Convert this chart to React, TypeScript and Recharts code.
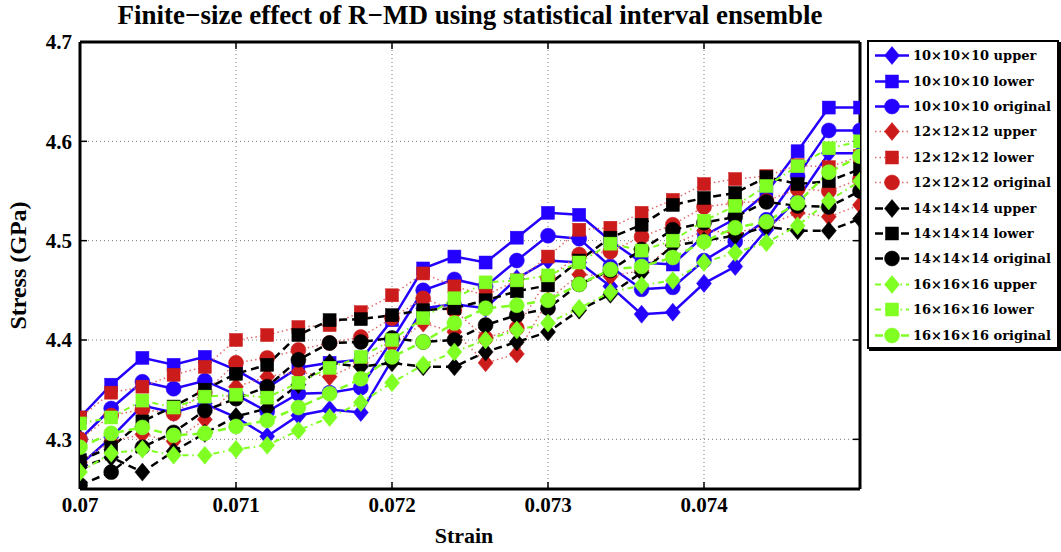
import React from 'react';
import { LineChart, Line, XAxis, YAxis, CartesianGrid, ReferenceLine } from 'recharts';

const STRAIN = [0.07, 0.0702, 0.0704, 0.0706, 0.0708, 0.071, 0.0712, 0.0714, 0.0716, 0.0718, 0.072, 0.0722, 0.0724, 0.0726, 0.0728, 0.073, 0.0732, 0.0734, 0.0736, 0.0738, 0.074, 0.0742, 0.0744, 0.0746, 0.0748, 0.075];

const UPPER_10 = [4.274, 4.302, 4.334, 4.327, 4.336, 4.322, 4.303, 4.324, 4.33, 4.327, 4.38, 4.432, 4.436, 4.432, 4.462, 4.48, 4.478, 4.454, 4.426, 4.428, 4.457, 4.474, 4.511, 4.542, 4.588, 4.588];
const LOWER_10 = [4.322, 4.355, 4.382, 4.375, 4.383, 4.37, 4.352, 4.372, 4.377, 4.38, 4.42, 4.472, 4.484, 4.478, 4.503, 4.528, 4.526, 4.5, 4.478, 4.476, 4.505, 4.522, 4.548, 4.59, 4.634, 4.634];
const ORIG_10 = [4.3, 4.331, 4.358, 4.351, 4.359, 4.345, 4.328, 4.346, 4.347, 4.352, 4.4, 4.45, 4.461, 4.454, 4.48, 4.505, 4.502, 4.474, 4.451, 4.453, 4.48, 4.499, 4.521, 4.565, 4.611, 4.611];
const UPPER_12 = [4.277, 4.298, 4.305, 4.298, 4.32, 4.353, 4.363, 4.368, 4.363, 4.377, 4.395, 4.417, 4.408, 4.377, 4.386, 4.44, 4.466, 4.464, 4.47, 4.496, 4.51, 4.508, 4.515, 4.528, 4.524, 4.536];
const LOWER_12 = [4.322, 4.347, 4.353, 4.365, 4.373, 4.4, 4.405, 4.413, 4.415, 4.428, 4.445, 4.467, 4.454, 4.445, 4.46, 4.484, 4.511, 4.513, 4.528, 4.541, 4.557, 4.562, 4.565, 4.576, 4.574, 4.585];
const ORIG_12 = [4.3, 4.324, 4.33, 4.326, 4.347, 4.377, 4.382, 4.39, 4.397, 4.403, 4.422, 4.442, 4.43, 4.402, 4.412, 4.462, 4.486, 4.489, 4.504, 4.516, 4.534, 4.538, 4.54, 4.552, 4.55, 4.562];
const UPPER_14 = [4.272, 4.282, 4.267, 4.288, 4.306, 4.323, 4.331, 4.355, 4.377, 4.373, 4.377, 4.373, 4.373, 4.388, 4.398, 4.408, 4.43, 4.446, 4.468, 4.495, 4.5, 4.505, 4.514, 4.51, 4.51, 4.522];
const LOWER_14 = [4.279, 4.292, 4.318, 4.333, 4.35, 4.366, 4.375, 4.405, 4.42, 4.421, 4.425, 4.43, 4.432, 4.44, 4.449, 4.455, 4.48, 4.503, 4.516, 4.536, 4.543, 4.548, 4.564, 4.557, 4.56, 4.572];
const ORIG_14 = [4.254, 4.267, 4.292, 4.307, 4.329, 4.341, 4.353, 4.38, 4.397, 4.398, 4.402, 4.398, 4.4, 4.415, 4.425, 4.432, 4.456, 4.47, 4.491, 4.511, 4.518, 4.524, 4.539, 4.535, 4.534, 4.55];
const UPPER_16 = [4.267, 4.286, 4.29, 4.284, 4.284, 4.29, 4.294, 4.309, 4.322, 4.337, 4.357, 4.375, 4.388, 4.4, 4.41, 4.417, 4.432, 4.448, 4.455, 4.46, 4.478, 4.488, 4.498, 4.515, 4.54, 4.56];
const LOWER_16 = [4.316, 4.322, 4.339, 4.332, 4.343, 4.345, 4.342, 4.357, 4.372, 4.383, 4.4, 4.422, 4.442, 4.458, 4.46, 4.465, 4.478, 4.497, 4.49, 4.5, 4.52, 4.535, 4.555, 4.575, 4.593, 4.6];
const ORIG_16 = [4.292, 4.306, 4.312, 4.304, 4.306, 4.313, 4.319, 4.332, 4.346, 4.361, 4.383, 4.398, 4.417, 4.432, 4.435, 4.44, 4.456, 4.471, 4.474, 4.483, 4.499, 4.513, 4.519, 4.538, 4.569, 4.585];

const X_TICKS = [0.07, 0.071, 0.072, 0.073, 0.074];
const Y_TICKS = [4.3, 4.4, 4.5, 4.6, 4.7];

const BLUE = '#2400ff';
const RED = '#cc1b1b';
const BLACK = '#000000';
const GREEN = '#80ff22';

type Shape = 'diamond' | 'square' | 'circle';
type SeriesDef = { key: string; name: string; values: number[]; color: string; shape: Shape; dash?: string; width: number; lineColor?: string };

const SERIES: SeriesDef[] = [
  { key: 'u10', name: '10\u00d710\u00d710 upper', values: UPPER_10, color: BLUE, shape: 'diamond', width: 2.5 },
  { key: 'l10', name: '10\u00d710\u00d710 lower', values: LOWER_10, color: BLUE, shape: 'square', width: 2.5 },
  { key: 'o10', name: '10\u00d710\u00d710 original', values: ORIG_10, color: BLUE, shape: 'circle', width: 2.5 },
  { key: 'u12', name: '12\u00d712\u00d712 upper', values: UPPER_12, color: RED, shape: 'diamond', dash: '1.5 3', width: 1.5, lineColor: '#e06a6a' },
  { key: 'l12', name: '12\u00d712\u00d712 lower', values: LOWER_12, color: RED, shape: 'square', dash: '1.5 3', width: 1.5, lineColor: '#e06a6a' },
  { key: 'o12', name: '12\u00d712\u00d712 original', values: ORIG_12, color: RED, shape: 'circle', dash: '1.5 3', width: 1.5, lineColor: '#e06a6a' },
  { key: 'u14', name: '14\u00d714\u00d714 upper', values: UPPER_14, color: BLACK, shape: 'diamond', dash: '8 5', width: 2.5 },
  { key: 'l14', name: '14\u00d714\u00d714 lower', values: LOWER_14, color: BLACK, shape: 'square', dash: '8 5', width: 2.5 },
  { key: 'o14', name: '14\u00d714\u00d714 original', values: ORIG_14, color: BLACK, shape: 'circle', dash: '8 5', width: 2.5 },
  { key: 'u16', name: '16\u00d716\u00d716 upper', values: UPPER_16, color: GREEN, shape: 'diamond', dash: '6 4 1.5 4', width: 2 },
  { key: 'l16', name: '16\u00d716\u00d716 lower', values: LOWER_16, color: GREEN, shape: 'square', dash: '6 4 1.5 4', width: 2 },
  { key: 'o16', name: '16\u00d716\u00d716 original', values: ORIG_16, color: GREEN, shape: 'circle', dash: '8 5', width: 2.5 },
];

const DATA = STRAIN.map((x, i) => {
  const row: Record<string, number> = { x };
  SERIES.forEach((s) => {
    row[s.key] = s.values[i];
  });
  return row;
});

function Marker({ cx, cy, shape, color, k }: { cx: number; cy: number; shape: Shape; color: string; k?: string }) {
  if (cx == null || cy == null || isNaN(cx) || isNaN(cy)) return <g key={k} />;
  if (shape === 'circle') return <circle key={k} cx={cx} cy={cy} r={7.5} fill={color} stroke={color} strokeWidth={0.5} />;
  if (shape === 'square') return <rect key={k} x={cx - 6.5} y={cy - 6.5} width={13} height={13} fill={color} stroke={color} strokeWidth={0.5} />;
  return (
    <polygon
      key={k}
      points={`${cx},${cy - 9} ${cx + 7.5},${cy} ${cx},${cy + 9} ${cx - 7.5},${cy}`}
      fill={color}
      stroke={color}
      strokeWidth={0.5}
    />
  );
}

const SERIF = '"Liberation Serif", "Times New Roman", serif';

export default function App() {
  const xTickLen = 0.000045;
  const yTickLen = 0.007;
  return (
    <div style={{ position: 'absolute', left: 0, top: 0, width: 1061, height: 552, background: '#fff', overflow: 'hidden' }}>
      <div
        style={{
          position: 'absolute',
          left: 70,
          width: 800,
          top: 0,
          textAlign: 'center',
          fontFamily: SERIF,
          fontWeight: 'bold',
          fontSize: 27,
          lineHeight: '30px',
          color: '#000',
          whiteSpace: 'nowrap',
        }}
      >
        Finite{'\u2212'}size effect of R{'\u2212'}MD using statistical interval ensemble
      </div>
      <LineChart width={1061} height={552} data={DATA} margin={{ top: 42, right: 201, bottom: 0, left: 0 }}>
        <CartesianGrid stroke="#7a7a7a" strokeDasharray="1 3" strokeWidth={1} />
        <XAxis
          dataKey="x"
          type="number"
          domain={[0.07, 0.075]}
          ticks={X_TICKS}
          tickFormatter={(v: number) => String(v)}
          height={63}
          tickLine={false}
          axisLine={{ stroke: '#000', strokeWidth: 3 }}
          tick={{ fill: '#000', fontFamily: SERIF, fontWeight: 'bold', fontSize: 21 }}
          allowDataOverflow
          label={{ value: 'Strain', position: 'insideBottom', offset: 9, dx: -6, fill: '#000', fontFamily: SERIF, fontWeight: 'bold', fontSize: 22 }}
        />
        <YAxis
          type="number"
          domain={[4.25, 4.7]}
          ticks={Y_TICKS}
          width={80}
          tickLine={false}
          axisLine={{ stroke: '#000', strokeWidth: 3 }}
          tick={{ fill: '#000', fontFamily: SERIF, fontWeight: 'bold', fontSize: 21 }}
          allowDataOverflow
          label={{ value: 'Stress (GPa)', angle: -90, position: 'insideLeft', offset: 17, fill: '#000', fontFamily: SERIF, fontWeight: 'bold', fontSize: 24, style: { textAnchor: 'middle' } }}
        />
        <ReferenceLine y={4.7} stroke="#000" strokeWidth={3} />
        <ReferenceLine x={0.075} stroke="#000" strokeWidth={3} />
        {X_TICKS.slice(1).map((t) => (
          <ReferenceLine key={`bt${t}`} segment={[{ x: t, y: 4.25 }, { x: t, y: 4.25 + yTickLen }]} stroke="#000" strokeWidth={1.5} />
        ))}
        {X_TICKS.slice(1).map((t) => (
          <ReferenceLine key={`tt${t}`} segment={[{ x: t, y: 4.7 }, { x: t, y: 4.7 - yTickLen }]} stroke="#000" strokeWidth={1.5} />
        ))}
        {Y_TICKS.slice(0, 4).map((t) => (
          <ReferenceLine key={`lt${t}`} segment={[{ x: 0.07, y: t }, { x: 0.07 + xTickLen, y: t }]} stroke="#000" strokeWidth={1.5} />
        ))}
        {Y_TICKS.slice(0, 4).map((t) => (
          <ReferenceLine key={`rt${t}`} segment={[{ x: 0.075, y: t }, { x: 0.075 - xTickLen, y: t }]} stroke="#000" strokeWidth={1.5} />
        ))}
        {SERIES.map((s) => (
          <Line
            key={s.key}
            dataKey={s.key}
            name={s.name}
            type="linear"
            stroke={s.lineColor || s.color}
            strokeWidth={s.width}
            strokeDasharray={s.dash}
            isAnimationActive={false}
            activeDot={false}
            dot={(p: any) => <Marker key={`${s.key}-${p.index}`} k={`${s.key}-${p.index}`} cx={p.cx} cy={p.cy} shape={s.shape} color={s.color} />}
          />
        ))}
      </LineChart>
      <div
        style={{
          position: 'absolute',
          left: 867,
          top: 40,
          width: 188,
          height: 305,
          border: '2px solid #000',
          background: '#fff',
          boxShadow: '2px 2px 0 #000',
        }}
      >
        {SERIES.map((s, i) => (
          <div key={s.key} style={{ position: 'absolute', left: 0, top: 1 + i * 25.4, height: 25.4, width: 188, display: 'flex', alignItems: 'center' }}>
            <svg width={44} height={25} style={{ flex: 'none' }}>
              <line x1={6} y1={12.5} x2={40} y2={12.5} stroke={s.lineColor || s.color} strokeWidth={s.width} strokeDasharray={s.dash} />
              <Marker cx={23} cy={12.5} shape={s.shape} color={s.color} />
            </svg>
            <span style={{ fontFamily: '"DejaVu Serif", serif', fontWeight: 'bold', fontSize: 13, color: '#000', whiteSpace: 'nowrap' }}>{s.name}</span>
          </div>
        ))}
      </div>
    </div>
  );
}
